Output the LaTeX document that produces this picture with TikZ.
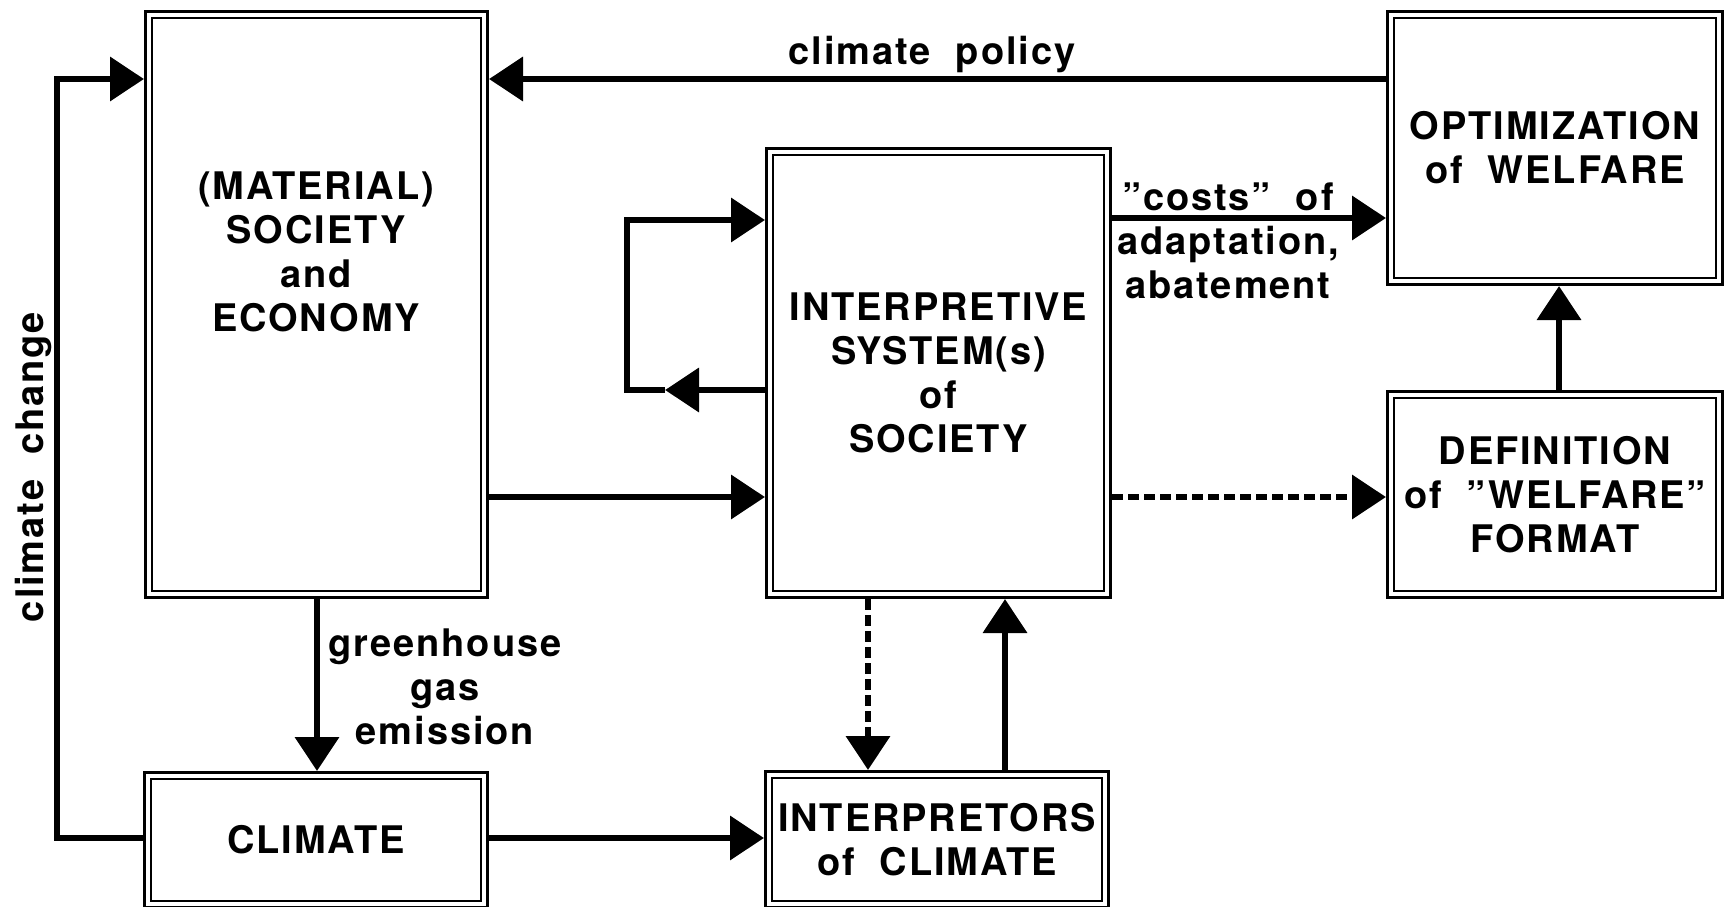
\documentclass[tikz,border=0pt]{standalone}
\usepackage{fontspec}
\setmainfont{TeX Gyre Heros}[LetterSpace=5]
\usetikzlibrary{arrows.meta}
\newcommand\txtfont{\fontsize{38}{44}\selectfont\bfseries}
\tikzset{
  x=1pt, y=-1pt,
  box/.style={draw, double, line width=2.8pt, double distance=3.8pt, outer sep=4.7pt,
    inner sep=0pt, align=center, font=\txtfont},
  conn/.style={line width=6.8pt, -{Triangle[length=34pt,width=43pt]}},
  dconn/.style={conn, dash pattern=on 11pt off 5pt},
  lbl/.style={align=center, font=\txtfont, inner sep=0pt},
}
\begin{document}
\begin{tikzpicture}
\useasboundingbox (0,0) rectangle (1724,906);
\clip (0,0) rectangle (1724,906);
\fill[white] (0,0) rectangle (1724,906);

% boxes
\node[box, minimum width=335.6pt, minimum height=579.6pt] (mat) at (316.5,304.5) {};
\node[lbl] (matText) at (316,252) {(MATERIAL)\\SOCIETY\\and\\ECONOMY};
\node[box, minimum width=336.6pt, minimum height=128.6pt] (clim) at (316,840) {CLIMATE};
\node[box, minimum width=337.6pt, minimum height=442.6pt] (interp) at (938.5,373)
  {INTERPRETIVE\\SYSTEM(s)\\of\\SOCIETY};
\node[box, minimum width=336.6pt, minimum height=129.6pt] (interpr) at (937,839.5)
  {INTERPRETORS\\of~ CLIMATE};
\node[box, minimum width=328.6pt, minimum height=266.6pt] (opt) at (1555,148)
  {OPTIMIZATION\\of~ WELFARE};
\node[box, minimum width=328.6pt, minimum height=199.6pt] (def) at (1555,494.5)
  {DEFINITION\\of~ ”WELFARE”\\FORMAT};

% labels
\node[lbl] (cpText) at (932,55) {climate~ policy};
\node[lbl] (ghText) at (445,687) {greenhouse\\gas\\emission};
\node[lbl] (costText) at (1228,241) {”costs”~ of\\adaptation,\\abatement};
\node[lbl, rotate=90] (ccText) at (33,467) {climate~ change};

% helper coordinates
\coordinate (cc) at (57,79);
\coordinate (cpY) at (0,79);
\coordinate (costY) at (0,218);
\coordinate (loopT) at (627,220);
\coordinate (loopB) at (627,390);
\coordinate (loopTip) at (665,390);
\coordinate (midY) at (0,497);
\coordinate (lowY) at (0,838);
\coordinate (ghX) at (317,0);
\coordinate (dashX) at (868,0);
\coordinate (upX) at (1005,0);
\coordinate (welX) at (1559,0);

% connectors
\draw[conn] (clim.west |- lowY) -| (cc) -- (mat.west |- cc);
\draw[conn] (opt.west |- cpY) -- (mat.east |- cpY);
\draw[conn] (mat.south -| ghX) -- (clim.north -| ghX);
\draw[conn] (interp.east |- costY) -- (opt.west |- costY);
\draw[conn] (interp.west |- loopB) -- (loopTip);
\draw[conn] (loopTip) -- (loopB) -- (loopT) -- (interp.west |- loopT);
\draw[conn] (mat.east |- midY) -- (interp.west |- midY);
\draw[dconn] (interp.east |- midY) -- (def.west |- midY);
\draw[conn] (def.north -| welX) -- (opt.south -| welX);
\draw[dconn] (interp.south -| dashX) -- (interpr.north -| dashX);
\draw[conn] (interpr.north -| upX) -- (interp.south -| upX);
\draw[conn] (clim.east |- lowY) -- (interpr.west |- lowY);
\end{tikzpicture}
\end{document}
